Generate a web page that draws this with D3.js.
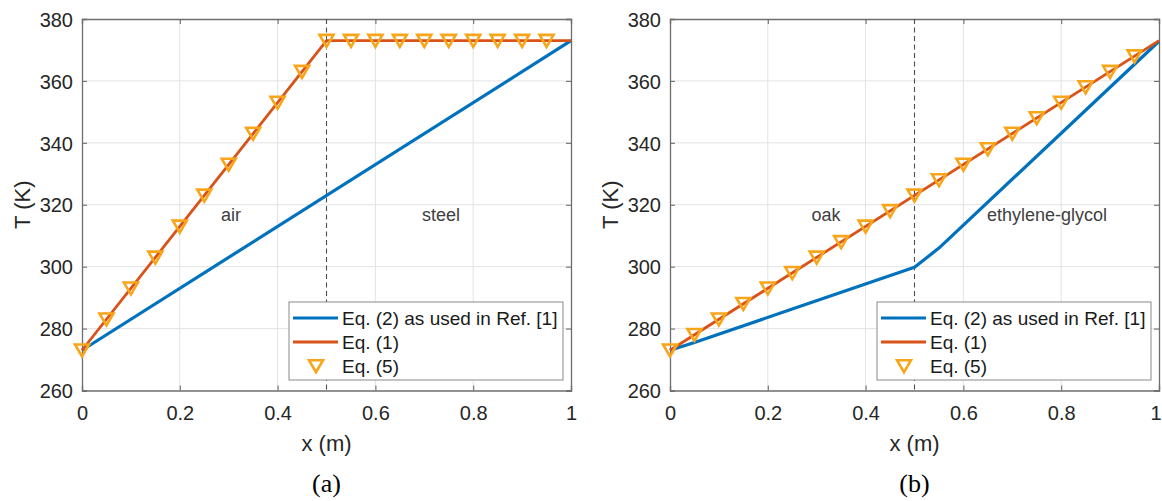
<!DOCTYPE html>
<html>
<head>
<meta charset="utf-8">
<script src="https://cdn.jsdelivr.net/npm/d3@7"></script>
<style>
  html, body { margin: 0; padding: 0; background: #fff; }
  svg { display: block; }
</style>
</head>
<body>
<svg id="chart" width="1162" height="501"></svg>
<script>
// ---------------- DATA ----------------
const xTicks = [0, 0.2, 0.4, 0.6, 0.8, 1];
const xTickLabels = ["0", "0.2", "0.4", "0.6", "0.8", "1"];
const yTicks = [260, 280, 300, 320, 340, 360, 380];
const yTickLabels = ["260", "280", "300", "320", "340", "360", "380"];
const legendLabels = ["Eq. (2) as used in Ref. [1]", "Eq. (1)", "Eq. (5)"];
const interfaceX = 0.5;

const markerX = [0, 0.05, 0.1, 0.15, 0.2, 0.25, 0.3, 0.35, 0.4, 0.45,
                 0.5, 0.55, 0.6, 0.65, 0.7, 0.75, 0.8, 0.85, 0.9, 0.95];

// Panel (a): air | steel
const aBlueX = [0, 1];
const aBlueT = [273, 373];
const aRedX = [0, 0.5, 1];
const aRedT = [273, 373, 373];
const aMarkT = [273, 283, 293, 303, 313, 323, 333, 343, 353, 363,
                373, 373, 373, 373, 373, 373, 373, 373, 373, 373];
const aMaterials = ["air", "steel"];

// Panel (b): oak | ethylene-glycol
const bBlueX = [0, 0.05, 0.25, 0.5, 0.55, 1];
const bBlueT = [273, 275.5, 286.3, 299.8, 306.0, 372.8];
const bRedX = [0, 1];
const bRedT = [273, 373];
const bMarkT = [273, 278, 283, 288, 293, 298, 303, 308, 313, 318,
                323, 328, 333, 338, 343, 348, 353, 358, 363, 368];
const bMaterials = ["oak", "ethylene-glycol"];

// ---------------- STYLE ----------------
const BLUE = "#0072BD", RED = "#D95319", ORANGE = "#F9A51A";
const FONT = "'Liberation Sans', Arial, Helvetica, sans-serif";
const TRI = "M-7,-5.8L7,-5.8L0,6.2Z";

const svg = d3.select("#chart");

function drawPanel(cfg) {
  const { left, right, top, bottom } = cfg;
  const x = d3.scaleLinear().domain([0, 1]).range([left, right]);
  const y = d3.scaleLinear().domain([260, 380]).range([bottom, top]);
  const g = svg.append("g");

  // grid
  g.append("g").selectAll("line").data(xTicks.slice(1, -1)).join("line")
    .attr("x1", d => x(d)).attr("x2", d => x(d))
    .attr("y1", top).attr("y2", bottom)
    .attr("stroke", "#e3e3e3").attr("stroke-width", 1);
  g.append("g").selectAll("line").data(yTicks.slice(1, -1)).join("line")
    .attr("y1", d => y(d)).attr("y2", d => y(d))
    .attr("x1", left).attr("x2", right)
    .attr("stroke", "#e3e3e3").attr("stroke-width", 1);

  // axes with inward ticks (all four sides)
  const tickLen = 5;
  const axB = d3.axisBottom(x).tickValues(xTicks).tickSize(-tickLen).tickFormat((d, i) => xTickLabels[i]);
  const axT = d3.axisTop(x).tickValues(xTicks).tickSize(-tickLen).tickFormat("");
  const axL = d3.axisLeft(y).tickValues(yTicks).tickSize(-tickLen).tickFormat((d, i) => yTickLabels[i]);
  const axR = d3.axisRight(y).tickValues(yTicks).tickSize(-tickLen).tickFormat("");

  const styleAxis = sel => {
    sel.select(".domain").attr("stroke", "#6e6e6e").attr("stroke-width", 1.3);
    sel.selectAll(".tick line").attr("stroke", "#6e6e6e").attr("stroke-width", 1.1);
    sel.selectAll(".tick text").attr("fill", "#262626")
      .style("font-family", FONT).style("font-size", "20px");
  };
  const bAx = g.append("g").attr("transform", `translate(0,${bottom})`).call(axB).call(styleAxis);
  bAx.selectAll(".tick text").attr("dy", null).attr("y", 29.5);
  // keep the last label inside the page edge
  bAx.selectAll(".tick text").filter(d => d === 1 && right > 1150).attr("text-anchor", "end").attr("x", 1161 - right);
  g.append("g").attr("transform", `translate(0,${top})`).call(axT).call(styleAxis);
  g.append("g").attr("transform", `translate(${left},0)`).call(axL).call(styleAxis)
    .selectAll(".tick text").attr("dy", "0.36em").attr("x", -9);
  g.append("g").attr("transform", `translate(${right},0)`).call(axR).call(styleAxis);

  // interface dashed line
  g.append("line")
    .attr("x1", x(interfaceX)).attr("x2", x(interfaceX))
    .attr("y1", top).attr("y2", bottom)
    .attr("stroke", "#4d4d4d").attr("stroke-width", 1.1)
    .attr("stroke-dasharray", "5,3.5");

  // material labels
  g.append("text").attr("x", cfg.matPos[0]).attr("y", 216)
    .attr("text-anchor", "middle").attr("dy", "0.3em")
    .attr("fill", "#404040").style("font-family", FONT).style("font-size", "18px")
    .text(cfg.materials[0]);
  g.append("text").attr("x", cfg.matPos[1]).attr("y", 216)
    .attr("text-anchor", "middle").attr("dy", "0.3em")
    .attr("fill", "#404040").style("font-family", FONT).style("font-size", "18px")
    .text(cfg.materials[1]);

  const line = d3.line().x(d => x(d[0])).y(d => y(d[1]));
  const clipId = "clip" + cfg.id;
  svg.append("clipPath").attr("id", clipId).append("rect")
    .attr("x", left - 10).attr("y", top - 10).attr("width", right - left + 20).attr("height", bottom - top + 20);

  const lines = g.append("g").attr("clip-path", `url(#${clipId})`);
  lines.append("path").datum(cfg.blueX.map((v, i) => [v, cfg.blueT[i]]))
    .attr("d", line).attr("fill", "none").attr("stroke", BLUE).attr("stroke-width", 3.2)
    .attr("stroke-linejoin", "round");
  lines.append("path").datum(cfg.redX.map((v, i) => [v, cfg.redT[i]]))
    .attr("d", line).attr("fill", "none").attr("stroke", RED).attr("stroke-width", 2.8)
    .attr("stroke-linejoin", "round");

  lines.append("g").selectAll("path").data(markerX.map((v, i) => [v, cfg.markT[i]])).join("path")
    .attr("d", TRI)
    .attr("transform", d => `translate(${x(d[0])},${y(d[1])})`)
    .attr("fill", "none").attr("stroke", ORANGE).attr("stroke-width", 2.6)
    .attr("stroke-linejoin", "miter");

  // axis labels
  g.append("text").attr("x", (left + right) / 2).attr("y", 451)
    .attr("text-anchor", "middle").attr("fill", "#262626")
    .style("font-family", FONT).style("font-size", "22px").text("x (m)");
  g.append("text").attr("transform", `translate(${left - 52},${(top + bottom) / 2}) rotate(-90)`)
    .attr("text-anchor", "middle").attr("fill", "#262626")
    .style("font-family", FONT).style("font-size", "22px").text("T (K)");

  // panel caption
  g.append("text").attr("x", (left + right) / 2).attr("y", 492)
    .attr("text-anchor", "middle").attr("fill", "#000")
    .style("font-family", "'Liberation Serif', 'Times New Roman', serif").style("font-size", "26px")
    .text(cfg.caption);

  // legend
  const bx = left + 207, bw = right - 8 - bx, byTop = 302, bh = 78;
  const lg = g.append("g");
  lg.append("rect").attr("x", bx).attr("y", byTop).attr("width", bw).attr("height", bh)
    .attr("fill", "#fff").attr("stroke", "#8a8a8a").attr("stroke-width", 1);
  const rows = [16, 40, 64];
  lg.append("line").attr("x1", bx + 4).attr("x2", bx + 49).attr("y1", byTop + rows[0]).attr("y2", byTop + rows[0])
    .attr("stroke", BLUE).attr("stroke-width", 3.2);
  lg.append("line").attr("x1", bx + 4).attr("x2", bx + 49).attr("y1", byTop + rows[1]).attr("y2", byTop + rows[1])
    .attr("stroke", RED).attr("stroke-width", 2.8);
  lg.append("path").attr("d", TRI)
    .attr("transform", `translate(${bx + 27},${byTop + rows[2]})`)
    .attr("fill", "none").attr("stroke", ORANGE).attr("stroke-width", 2.6);
  lg.selectAll("text.leg").data(legendLabels).join("text").attr("class", "leg")
    .attr("x", bx + 53).attr("y", (d, i) => byTop + rows[i]).attr("dy", "0.36em")
    .attr("fill", "#1a1a1a").style("font-family", FONT).style("font-size", "19px")
    .text(d => d);
}

drawPanel({ id: "a", left: 82, right: 571, top: 19, bottom: 390.5,
  blueX: aBlueX, blueT: aBlueT, redX: aRedX, redT: aRedT, markT: aMarkT,
  materials: aMaterials, matPos: [231, 441], caption: "(a)" });
drawPanel({ id: "b", left: 670, right: 1159, top: 19, bottom: 390.5,
  blueX: bBlueX, blueT: bBlueT, redX: bRedX, redT: bRedT, markT: bMarkT,
  materials: bMaterials, matPos: [826, 1047], caption: "(b)" });
</script>
</body>
</html>
